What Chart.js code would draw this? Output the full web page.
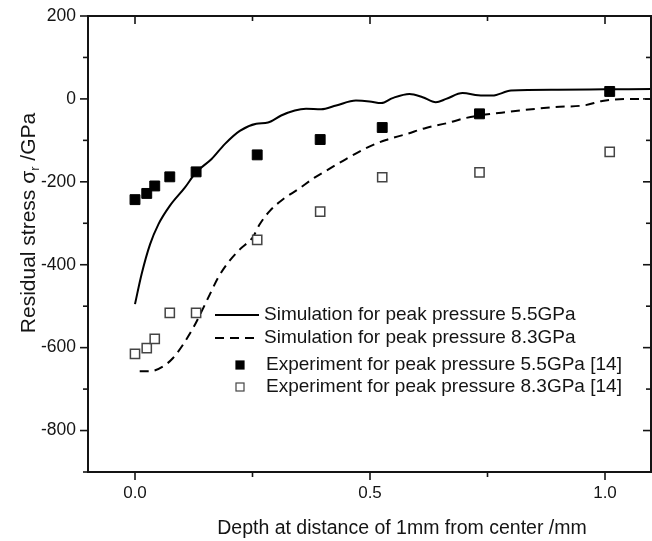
<!DOCTYPE html>
<html>
<head>
<meta charset="utf-8">
<script src="https://cdn.jsdelivr.net/npm/chart.js@4"></script>
<style>
  html, body { margin: 0; padding: 0; background: #fff; }
  #wrap { width: 652px; height: 541px; }
</style>
</head>
<body>
<div id="wrap"><canvas id="stressChart"></canvas></div>
<script>
// depth (mm) / residual stress (GPa)
const simLowDepth  = [0, 0.014, 0.032, 0.05, 0.074, 0.106, 0.13, 0.163, 0.191, 0.223, 0.258, 0.283, 0.311, 0.34, 0.364, 0.396, 0.428, 0.47, 0.499, 0.524, 0.548, 0.584, 0.612, 0.64, 0.662, 0.697, 0.73, 0.76, 0.8, 0.9, 1.0, 1.1];
const simLowStress = [-495, -423, -351, -302, -258, -214, -177, -145, -109, -77, -60, -57, -40, -28, -24, -25, -16, -4, -6, -10, 2, 12, 4, -8, 0, 14, 9, 8, 20, 22, 23, 24];

const simHighDepth  = [0.01, 0.032, 0.06, 0.081, 0.102, 0.124, 0.142, 0.159, 0.177, 0.198, 0.223, 0.251, 0.265, 0.287, 0.315, 0.347, 0.382, 0.407, 0.449, 0.495, 0.534, 0.577, 0.619, 0.662, 0.704, 0.733, 0.789, 0.888, 0.959, 0.994, 1.05, 1.1];
const simHighStress = [-657, -657, -645, -625, -593, -552, -512, -472, -431, -395, -363, -333, -303, -270, -242, -218, -190, -173, -145, -117, -99, -85, -70, -59, -46, -40, -32, -20, -15, -5, 0, 0];

const expDepth = [0, 0.025, 0.042, 0.074, 0.13, 0.26, 0.394, 0.526, 0.733, 1.01];
const expLow   = [-243, -228, -210, -188, -176, -135, -98, -69, -36, 18];
const expHigh  = [-615, -601, -579, -516, -516, -340, -272, -189, -177, -128];

const labels = [
  'Simulation for peak pressure 5.5GPa',
  'Simulation for peak pressure 8.3GPa',
  'Experiment for peak pressure 5.5GPa [14]',
  'Experiment for peak pressure 8.3GPa [14]'
];

const xy = (xs, ys) => xs.map((v, i) => ({ x: v, y: ys[i] }));

const FONT = "'Liberation Sans', Arial, sans-serif";
const INK = '#141414';

// frame, mirrored ticks, axis titles and the inset legend
const frameAndLegend = {
  id: 'frameAndLegend',
  afterDraw(chart) {
    const { ctx, chartArea: a, scales: { x, y } } = chart;
    const seg = (x1, y1, x2, y2) => { ctx.beginPath(); ctx.moveTo(x1, y1); ctx.lineTo(x2, y2); ctx.stroke(); };
    ctx.save();
    ctx.strokeStyle = INK;
    ctx.lineWidth = 2;
    ctx.strokeRect(a.left, a.top, a.right - a.left - 1, a.bottom - a.top);

    ctx.lineWidth = 1.6;
    x.ticks.forEach(t => {
      const px = x.getPixelForValue(t.value);
      const len = Math.abs(t.value * 2 - Math.round(t.value * 2)) < 1e-6 ? 8 : 5;
      seg(px, a.bottom, px, a.bottom + len);
      seg(px, a.top, px, a.top + len);
    });
    y.ticks.forEach(t => {
      const py = y.getPixelForValue(t.value);
      const len = t.value % 200 === 0 ? 8 : 5;
      seg(a.left - len, py, a.left, py);
      seg(a.right - 1 - len, py, a.right - 1, py);
    });

    // axis titles
    ctx.fillStyle = INK;
    ctx.font = '19.5px ' + FONT;
    ctx.textAlign = 'center';
    ctx.textBaseline = 'middle';
    ctx.fillText('Depth at distance of 1mm from center /mm', 402, 529);

    ctx.save();
    ctx.translate(29, 223);
    ctx.rotate(-Math.PI / 2);
    const partA = 'Residual stress \u03c3', partB = ' /GPa';
    ctx.font = '21px ' + FONT;
    const wA = ctx.measureText(partA).width, wB = ctx.measureText(partB).width;
    ctx.font = '13px ' + FONT;
    const wS = ctx.measureText('r').width;
    const start = -(wA + wS + wB) / 2;
    ctx.textAlign = 'left';
    ctx.font = '21px ' + FONT;
    ctx.fillText(partA, start, 0);
    ctx.font = '13px ' + FONT;
    ctx.fillText('r', start + wA, 6);
    ctx.font = '21px ' + FONT;
    ctx.fillText(partB, start + wA + wS, 0);
    ctx.restore();

    // legend
    const rows = [315, 338, 365, 387];
    ctx.font = '19px ' + FONT;
    ctx.textAlign = 'left';
    chart.data.datasets.forEach((ds, i) => {
      const ry = rows[i];
      if (ds.showLine !== false) {
        ctx.strokeStyle = ds.borderColor;
        ctx.lineWidth = 2;
        ctx.setLineDash(ds.borderDash || []);
        seg(215, ry, 259, ry);
        ctx.setLineDash([]);
        ctx.fillStyle = INK;
        ctx.fillText(ds.label, 264, ry);
      } else {
        ctx.fillStyle = ds.backgroundColor;
        ctx.fillRect(236, ry - 4, 8, 8);
        ctx.strokeStyle = ds.borderColor;
        ctx.lineWidth = 1.2;
        ctx.strokeRect(236, ry - 4, 8, 8);
        ctx.fillStyle = INK;
        ctx.fillText(ds.label, 266, ry);
      }
    });
    ctx.restore();
  }
};

new Chart(document.getElementById('stressChart'), {
  type: 'line',
  data: {
    datasets: [
      {
        label: labels[0],
        data: xy(simLowDepth, simLowStress),
        borderColor: '#000',
        borderWidth: 2,
        pointRadius: 0,
        cubicInterpolationMode: 'monotone',
        order: 2
      },
      {
        label: labels[1],
        data: xy(simHighDepth, simHighStress),
        borderColor: '#000',
        borderWidth: 2,
        borderDash: [9, 6],
        pointRadius: 0,
        cubicInterpolationMode: 'monotone',
        order: 2
      },
      {
        label: labels[2],
        data: xy(expDepth, expLow),
        showLine: false,
        pointStyle: 'rect',
        pointRadius: 7,
        backgroundColor: '#000',
        borderColor: '#000',
        borderWidth: 1,
        order: 1
      },
      {
        label: labels[3],
        data: xy(expDepth, expHigh),
        showLine: false,
        pointStyle: 'rect',
        pointRadius: 6.5,
        backgroundColor: '#fff',
        borderColor: '#444',
        borderWidth: 1.5,
        order: 1
      }
    ]
  },
  options: {
    responsive: true,
    maintainAspectRatio: false,
    animation: false,
    events: [],
    layout: { autoPadding: false, padding: { top: 16, right: 0, left: 0, bottom: 0 } },
    plugins: {
      legend: { display: false },
      tooltip: { enabled: false }
    },
    scales: {
      x: {
        type: 'linear',
        min: -0.1,
        max: 1.1,
        afterFit: s => { s.height = 69; s.paddingLeft = 0; s.paddingRight = 0; },
        border: { display: false },
        grid: { display: false, drawTicks: false },
        ticks: {
          stepSize: 0.25,
          includeBounds: false,
          padding: 11,
          color: INK,
          font: { family: FONT, size: 17 },
          maxRotation: 0,
          autoSkip: false,
          callback: v => (Math.abs(v * 2 - Math.round(v * 2)) < 1e-6 ? v.toFixed(1) : '')
        }
      },
      y: {
        min: -900,
        max: 200,
        afterFit: s => { s.width = 88; s.paddingTop = 0; s.paddingBottom = 0; },
        border: { display: false },
        grid: { display: false, drawTicks: false },
        ticks: {
          stepSize: 100,
          includeBounds: false,
          padding: 12,
          color: INK,
          font: { family: FONT, size: 17.5 },
          autoSkip: false,
          callback: v => (v % 200 === 0 ? String(v) : '')
        }
      }
    }
  },
  plugins: [frameAndLegend]
});
</script>
</body>
</html>
